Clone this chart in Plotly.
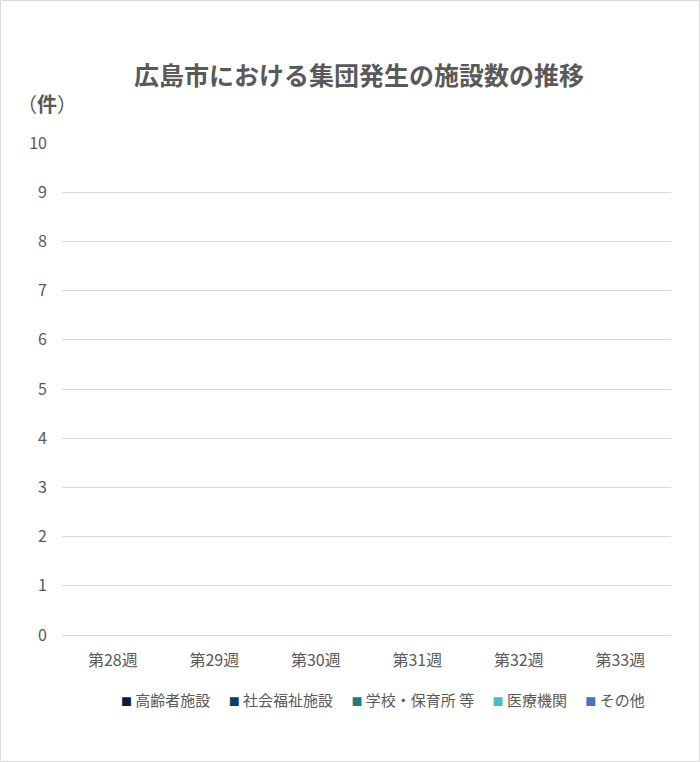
import plotly.graph_objects as go

# data (every week is zero)
weeks = ["第28週", "第29週", "第30週", "第31週", "第32週", "第33週"]
series_names = ["高齢者施設", "社会福祉施設", "学校・保育所 等", "医療機関", "その他"]
series_colors = ["#0d1b3e", "#0b3f63", "#1f7b8c", "#4dbcc0", "#4472c4"]
elderly = [0, 0, 0, 0, 0, 0]
welfare = [0, 0, 0, 0, 0, 0]
school = [0, 0, 0, 0, 0, 0]
medical = [0, 0, 0, 0, 0, 0]
other = [0, 0, 0, 0, 0, 0]
y_ticks = list(range(0, 11))

values = [elderly, welfare, school, medical, other]
font_jp = "Noto Sans CJK JP"
grey = "#595959"

W, H = 700, 762
ml, mr, mt, mb = 62, 29, 143, 127
pw, ph = W - ml - mr, H - mt - mb

fig = go.Figure()
for name, col, vals in zip(series_names, series_colors, values):
    fig.add_trace(go.Bar(x=weeks, y=vals, name=name, marker_color=col))

# legend drawn as one line of text so the small squares sit close to the labels
legend_text = "　 ".join(
    f"<span style='color:{c};font-size:11px'>■</span> {n}"
    for n, c in zip(series_names, series_colors))

fig.update_layout(
    width=W, height=H,
    barmode="stack",
    showlegend=False,
    paper_bgcolor="white", plot_bgcolor="white",
    margin=dict(l=ml, r=mr, t=mt, b=mb),
    font=dict(family=font_jp, color=grey),
    title=dict(text="<b>広島市における集団発生の施設数の推移</b>",
               x=(359 - ml) / pw, xref="paper", xanchor="center",
               y=1 - 76 / H, yanchor="middle",
               font=dict(size=25, color=grey, family=font_jp)),
    xaxis=dict(showgrid=False, showline=False, ticks="",
               ticklabelstandoff=14,
               tickfont=dict(size=16, color=grey)),
    yaxis=dict(range=[0, 10], tickvals=y_ticks, showgrid=True,
               gridcolor="#d9d9d9", gridwidth=1, zeroline=True,
               zerolinecolor="#d9d9d9", zerolinewidth=1, showline=False,
               ticks="", ticklabelstandoff=14,
               tickfont=dict(size=16, color=grey)),
    annotations=[
        dict(text="（<b>件</b>）", xref="paper", yref="paper",
             x=-(ml - 15) / pw, y=1 + (mt - 104) / ph,
             xanchor="left", yanchor="middle", showarrow=False,
             font=dict(size=20, color=grey, family=font_jp)),
        dict(text=legend_text, xref="paper", yref="paper",
             x=(383 - ml) / pw, y=-(699 - (H - mb)) / ph,
             xanchor="center", yanchor="middle", showarrow=False,
             font=dict(size=15, color=grey, family=font_jp)),
    ],
    shapes=[dict(type="rect", xref="paper", yref="paper",
                 x0=-(ml - 0.5) / pw, x1=1 + (mr - 0.5) / pw,
                 y0=-(mb - 0.5) / ph, y1=1 + (mt - 0.5) / ph,
                 line=dict(color="#d9d9d9", width=1), layer="below")],
)

# the page body has a default 8px margin; drop it so the chart fills the window
fig.write_html("out.html", config={"displayModeBar": False},
               post_script="document.body.style.margin='0';")
